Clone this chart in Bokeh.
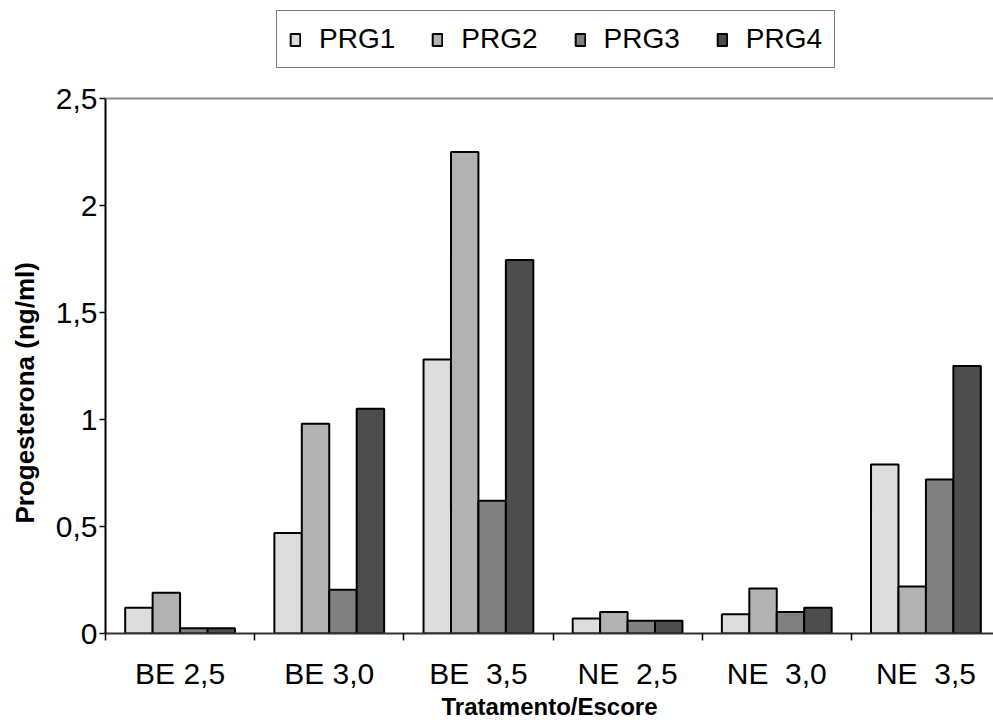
from bokeh.plotting import figure
from bokeh.models import (ColumnDataSource, FixedTicker, Legend, LegendItem, Span)
from bokeh.embed import file_html
from bokeh.resources import INLINE

categories = ["BE 2,5", "BE 3,0", "BE\u00a0 3,5", "NE\u00a0 2,5", "NE\u00a0 3,0", "NE\u00a0 3,5"]
series = ["PRG1", "PRG2", "PRG3", "PRG4"]
prg1 = [0.12, 0.47, 1.28, 0.07, 0.09, 0.79]
prg2 = [0.19, 0.98, 2.25, 0.10, 0.21, 0.22]
prg3 = [0.025, 0.205, 0.62, 0.06, 0.10, 0.72]
prg4 = [0.025, 1.05, 1.745, 0.06, 0.12, 1.25]
colors = ["#DDDDDD", "#B2B2B2", "#808080", "#4D4D4D"]
y_ticks = [0, 0.5, 1, 1.5, 2, 2.5]
y_tick_labels = ["0", "0,5", "1", "1,5", "2", "2,5"]

FONT = "Liberation Sans"
Y_MAX = 2.5
# frame extends above the value range to hold the legend (633 px frame, 535 px for 0..2.5)
y_end = Y_MAX * 633 / 535

p = figure(width=993, height=722, output_backend="svg", toolbar_location=None,
           x_range=(-0.5, 5.453), y_range=(0, y_end),
           min_border_left=105, min_border_right=0, min_border_top=0,
           min_border_bottom=89)
p.xgrid.visible = False
p.ygrid.visible = False
p.outline_line_color = None
p.background_fill_color = "white"
p.border_fill_color = "white"

centers = list(range(len(categories)))
bw = 0.184
renderers = []
for k, (name, vals, col) in enumerate(zip(series, [prg1, prg2, prg3, prg4], colors)):
    src = ColumnDataSource(dict(x=[c + (k - 1.5) * bw for c in centers], top=vals))
    r = p.vbar(x="x", top="top", width=bw, bottom=0, source=src,
               fill_color=col, line_color="black", line_width=2)
    renderers.append(r)

# top border line of the plot area
p.add_layout(Span(location=Y_MAX, dimension="width", line_color="#8C8C8C", line_width=2))

# x axis
xa = p.xaxis[0]
xa.ticker = FixedTicker(ticks=centers, minor_ticks=[c - 0.5 for c in centers] + [5.5])
xa.major_label_overrides = {c: lab for c, lab in zip(centers, categories)}
xa.major_tick_out = 0
xa.major_tick_in = 0
xa.minor_tick_out = 7
xa.minor_tick_in = 0
xa.minor_tick_line_color = "black"
xa.minor_tick_line_width = 1.5
xa.axis_line_color = "#333333"
xa.axis_line_width = 2
xa.major_label_text_font = FONT
xa.major_label_text_font_size = "30px"
xa.major_label_text_color = "black"
xa.major_label_standoff = 16
xa.axis_label = "Tratamento/Escore"
xa.axis_label_text_font = FONT
xa.axis_label_text_font_style = "bold"
xa.axis_label_text_font_size = "24px"
xa.axis_label_text_color = "black"
xa.axis_label_standoff = 0

# y axis
ya = p.yaxis[0]
ya.bounds = (0, Y_MAX)
ya.ticker = FixedTicker(ticks=y_ticks)
ya.major_label_overrides = {t: l for t, l in zip(y_ticks, y_tick_labels)}
ya.major_tick_out = 6
ya.major_tick_in = 0
ya.minor_tick_line_color = None
ya.major_tick_line_color = "black"
ya.major_tick_line_width = 1.5
ya.axis_line_color = "black"
ya.axis_line_width = 2
ya.major_label_text_font = FONT
ya.major_label_text_font_size = "30px"
ya.major_label_text_color = "black"
ya.major_label_standoff = 2
ya.axis_label = "Progesterona (ng/ml)" + "\u00a0" * 21
ya.axis_label_text_font = FONT
ya.axis_label_text_font_style = "bold"
ya.axis_label_text_font_size = "26px"
ya.axis_label_text_color = "black"
ya.axis_label_standoff = 13

legend = Legend(items=[LegendItem(label=s, renderers=[r]) for s, r in zip(series, renderers)],
                orientation="horizontal", location=(171, 565),
                label_text_font=FONT, label_text_font_size="28px",
                label_text_color="black",
                glyph_width=12, glyph_height=15, label_standoff=18, spacing=36,
                padding=12, margin=0,
                border_line_color="black", border_line_width=1.5,
                background_fill_color="white", background_fill_alpha=1)
p.add_layout(legend, "center")

open("out.html", "w").write(file_html(p, INLINE))
